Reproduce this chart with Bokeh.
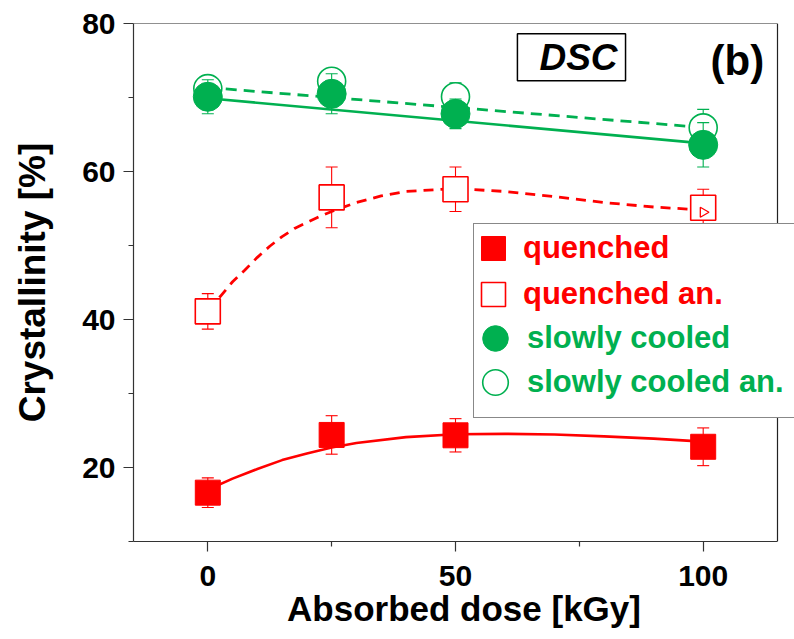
import math
from bokeh.plotting import figure
from bokeh.models import Range1d, FixedTicker, Legend, LegendItem, Label
from bokeh.embed import file_html
from bokeh.resources import INLINE

# ---------------- data ----------------
dose = [0, 25, 50, 100]

quenched = [16.6, 24.4, 24.35, 22.8]
quenched_err = [2.0, 2.6, 2.25, 2.55]
quenched_an = [41.1, 56.5, 57.6, 55.1]
quenched_an_err = [2.4, 4.1, 3.0, 2.5]
slowly = [70.1, 70.5, 67.8, 63.6]
slowly_err = [2.3, 2.7, 2.0, 3.0]
slowly_an = [71.2, 72.2, 70.1, 65.9]
slowly_an_err = [1.6, 1.0, 1.9, 2.5]

# fitted curves
q_fit_x = [0, 5, 10, 15, 20, 25, 30, 40, 50, 60, 70, 80, 90, 100]
q_fit_y = [17.0, 18.5, 19.8, 21.0, 21.9, 22.7, 23.3, 24.1, 24.5, 24.55, 24.45, 24.2, 23.9, 23.5]
qa_fit_x = [0, 2.5, 5, 7.5, 10, 12.5, 15, 17.5, 20, 22.5, 25, 30, 35, 40, 50, 60, 70, 80, 90, 100]
qa_fit_y = [41.3, 43.1, 45.1, 46.7, 48.4, 49.9, 51.2, 52.3, 53.1, 53.9, 54.6, 55.8, 56.7, 57.3,
            57.7, 57.3, 56.6, 55.8, 55.2, 54.8]
s_fit_x = [0, 100]
s_fit_y = [69.9, 63.8]
sa_fit_x = [0, 100]
sa_fit_y = [71.35, 65.95]

# small marker seen inside the last open square
mark_x = [100]
mark_y = [54.5]

x_ticks = [0, 50, 100]
x_minor = [25, 75]
y_ticks = [20, 40, 60, 80]
y_minor = [10, 30, 50, 70]

labels = ["quenched", "quenched an.", "slowly cooled", "slowly cooled an."]

# axes box
X_MIN, X_MAX = -15, 115
Y_MIN, Y_MAX = 10, 80
# the legend runs past the right side of the box, so the frame is widened
X_VIEW_END = X_MAX + 17 * (X_MAX - X_MIN) / 644

RED = "#FF0000"
GREEN = "#00B050"
FONT = "Liberation Sans"

p = figure(width=794, height=639, x_range=Range1d(X_MIN, X_VIEW_END), y_range=Range1d(Y_MIN, Y_MAX),
           output_backend="svg", toolbar_location=None,
           min_border_left=133, min_border_right=0, min_border_top=23, min_border_bottom=98)
p.grid.visible = False
p.outline_line_alpha = 0
p.background_fill_color = "white"
p.border_fill_color = "white"

for ax in (p.xaxis[0], p.yaxis[0]):
    ax.axis_line_color = "#333333"
    ax.axis_line_width = 1.2
    ax.major_tick_line_color = "#333333"
    ax.minor_tick_line_color = "#333333"
    ax.major_tick_line_width = 1.2
    ax.minor_tick_line_width = 1.2
    ax.major_tick_in = 0
    ax.major_tick_out = 10
    ax.minor_tick_in = 0
    ax.minor_tick_out = 5
    ax.major_label_text_font = FONT
    ax.major_label_text_font_style = "bold"
    ax.major_label_text_font_size = "30px"
    ax.major_label_text_color = "black"
    ax.axis_label_text_font = FONT
    ax.axis_label_text_font_style = "bold"
    ax.axis_label_text_color = "black"

p.xaxis.bounds = (X_MIN, X_MAX)
p.xaxis.ticker = FixedTicker(ticks=x_ticks, minor_ticks=x_minor)
p.yaxis.ticker = FixedTicker(ticks=y_ticks, minor_ticks=y_minor)
p.xaxis.axis_label = "Absorbed dose [kGy]"
p.yaxis.axis_label = "Crystallinity [%]"
p.xaxis.axis_label_text_font_size = "35px"
p.yaxis.axis_label_text_font_size = "37px"
p.xaxis.major_label_standoff = 14
p.yaxis.major_label_standoff = 8
p.xaxis.axis_label_standoff = 0
p.yaxis.axis_label_standoff = 26

# top and right sides of the box
p.segment(x0=[X_MIN, X_MAX], y0=[Y_MAX, Y_MIN], x1=[X_MAX, X_MAX], y1=[Y_MAX, Y_MAX],
          line_color="#222222", line_width=1.2)

# fit lines
p.line(q_fit_x, q_fit_y, line_color=RED, line_width=2.6)
p.line(qa_fit_x, qa_fit_y, line_color=RED, line_width=2.8, line_dash="10 7")
p.line(s_fit_x, s_fit_y, line_color=GREEN, line_width=2.6)
p.line(sa_fit_x, sa_fit_y, line_color=GREEN, line_width=2.8, line_dash="11 7")


def errbars(vals, errs, color):
    lo = [v - e for v, e in zip(vals, errs)]
    hi = [v + e for v, e in zip(vals, errs)]
    p.segment(x0=dose, y0=lo, x1=dose, y1=hi, line_color=color, line_width=1.1)
    p.scatter(x=dose + dose, y=lo + hi, marker="dash", size=12, line_color=color, line_width=1.1)


# open markers (white filled) with their error bars
errbars(quenched_an, quenched_an_err, RED)
errbars(slowly_an, slowly_an_err, GREEN)
r_qa = p.scatter(dose, quenched_an, marker="square", size=25, fill_color="white",
                 line_color=RED, line_width=1.6)
r_sa = p.scatter(dose, slowly_an, marker="circle", size=28, fill_color="white",
                 line_color=GREEN, line_width=1.6)

# filled markers
errbars(quenched, quenched_err, RED)
errbars(slowly, slowly_err, GREEN)
r_q = p.scatter(dose, quenched, marker="square", size=25, fill_color=RED, line_color=RED)
r_s = p.scatter(dose, slowly, marker="circle", size=29, fill_color=GREEN, line_color=GREEN)

p.scatter(mark_x, mark_y, marker="triangle", size=10, angle=-math.pi / 2,
          fill_color=None, line_color=RED, line_width=1.3)

# legend frame (an empty, invisible entry only gives the box)
r_none = p.scatter(x=[], y=[], marker="square", fill_alpha=0, line_alpha=0)
leg_box = Legend(items=[LegendItem(label=" ", renderers=[r_none])],
                 location=(340, 123), padding=0, margin=0, spacing=0,
                 glyph_width=20, glyph_height=193, label_height=20, label_width=340,
                 label_text_alpha=0, border_line_color="#111111", border_line_width=1.5,
                 background_fill_color="white", background_fill_alpha=1)
p.add_layout(leg_box)

# one legend per entry so every label keeps its own colour
# (renderer, label, colour, glyph box size, x offset, y offset in px from the frame corner)
entries = [(r_q, labels[0], RED, 60, 330, 263),
           (r_qa, labels[1], RED, 60, 330, 217),
           (r_s, labels[2], GREEN, 64, 330, 171),
           (r_sa, labels[3], GREEN, 64, 330, 127)]
for rend, lab, col, gsz, vx, vy in entries:
    lg = Legend(items=[LegendItem(label=lab, renderers=[rend])],
                location=(vx, vy), padding=0, margin=0, spacing=0,
                glyph_width=gsz, glyph_height=gsz, label_standoff=0,
                label_text_font=FONT, label_text_font_style="bold",
                label_text_font_size="31px", label_text_color=col,
                border_line_alpha=0, background_fill_alpha=0)
    p.add_layout(lg)

p.add_layout(Label(x=62.5, y=75.45, text="DSC", text_font=FONT, text_font_style="bold italic",
                   text_font_size="37px", text_baseline="middle", text_align="left",
                   text_color="black",
                   border_line_color="black", border_line_width=1.5,
                   background_fill_color="white",
                   padding=dict(left=22, right=8, top=3, bottom=3)))
p.add_layout(Label(x=101.5, y=75.0, text="(b)", text_font=FONT, text_font_style="bold",
                   text_font_size="42px", text_baseline="middle", text_align="left",
                   text_color="black"))

open("out.html", "w").write(file_html(p, INLINE))
